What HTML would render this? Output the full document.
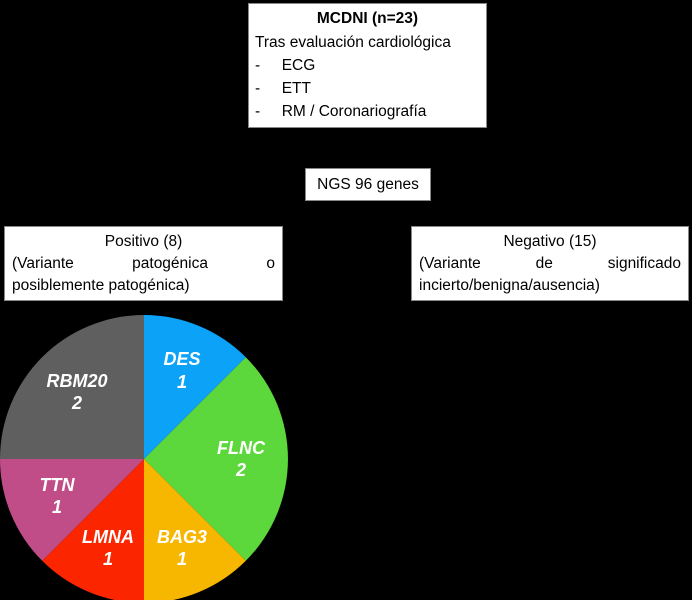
<!DOCTYPE html>
<html><head><meta charset="utf-8"><style>
html,body{margin:0;padding:0;background:#000;}
body{width:692px;height:600px;position:relative;overflow:hidden;font-family:"Liberation Sans",sans-serif;color:#000;}
.box{position:absolute;background:#fff;border:1px solid #888;box-sizing:border-box;font-size:15.5px;}
.l{position:absolute;left:0;right:0;white-space:nowrap;}
.j{display:flex;justify-content:space-between;}
</style></head><body>
<div class="box" style="left:248px;top:3px;width:239px;height:125px;">
  <div class="l" style="top:6px;text-align:center;font-weight:bold;">MCDNI (n=23)</div>
  <div class="l" style="top:30px;left:6px;">Tras evaluación cardiológica</div>
  <div class="l" style="top:53px;left:6px;">-&nbsp;&nbsp;&nbsp;&nbsp;&nbsp;ECG</div>
  <div class="l" style="top:76px;left:6px;">-&nbsp;&nbsp;&nbsp;&nbsp;&nbsp;ETT</div>
  <div class="l" style="top:99px;left:6px;">-&nbsp;&nbsp;&nbsp;&nbsp;&nbsp;RM / Coronariografía</div>
</div>
<div class="box" style="left:305px;top:168px;width:126px;height:33px;">
  <div class="l" style="top:7px;text-align:center;">NGS 96 genes</div>
</div>
<div class="box" style="left:4px;top:226px;width:279px;height:75px;">
  <div class="l" style="top:6px;text-align:center;">Positivo (8)</div>
  <div class="l j" style="top:28px;left:7px;right:7px;"><span>(Variante</span><span>patogénica</span><span>o</span></div>
  <div class="l" style="top:50px;left:7px;">posiblemente patogénica)</div>
</div>
<div class="box" style="left:411px;top:226px;width:278px;height:75px;">
  <div class="l" style="top:6px;text-align:center;">Negativo (15)</div>
  <div class="l j" style="top:28px;left:7px;right:7px;"><span>(Variante</span><span>de</span><span>significado</span></div>
  <div class="l" style="top:50px;left:7px;">incierto/benigna/ausencia)</div>
</div>
<svg style="position:absolute;left:0;top:0" width="692" height="600">
  <g>
    <path d="M144 459 L144 315 A144 144 0 0 1 245.8 357.2 Z" fill="#0ba2f7"/>
    <path d="M144 459 L245.8 357.2 A144 144 0 0 1 245.8 560.8 Z" fill="#5cd83c"/>
    <path d="M144 459 L245.8 560.8 A144 144 0 0 1 144 603 Z" fill="#f7b700"/>
    <path d="M144 459 L144 603 A144 144 0 0 1 42.2 560.8 Z" fill="#fb2600"/>
    <path d="M144 459 L42.2 560.8 A144 144 0 0 1 0 459 Z" fill="#c04d88"/>
    <path d="M144 459 L0 459 A144 144 0 0 1 144 315 Z" fill="#5f5f5f"/>
  </g>
  <g fill="#fff" font-family="Liberation Sans, sans-serif" font-weight="bold" font-style="italic" font-size="18" text-anchor="middle">
    <text x="182" y="365">DES</text><text x="182" y="388">1</text>
    <text x="241" y="454">FLNC</text><text x="241" y="476">2</text>
    <text x="182" y="543">BAG3</text><text x="182" y="565">1</text>
    <text x="108" y="543">LMNA</text><text x="108" y="565">1</text>
    <text x="57" y="491">TTN</text><text x="57" y="513">1</text>
    <text x="77" y="387">RBM20</text><text x="77" y="409">2</text>
  </g>
</svg>
</body></html>
